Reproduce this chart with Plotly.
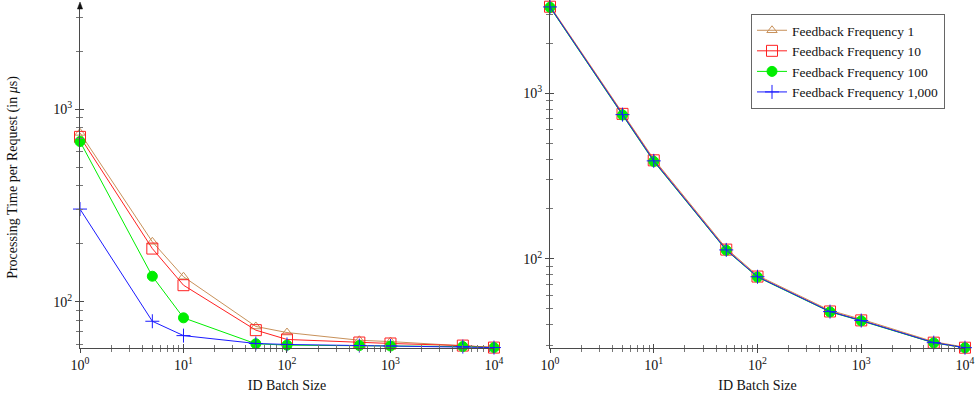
import plotly.graph_objects as go

batch_sizes = [1, 5, 10, 50, 100, 500, 1000, 5000, 10000]
series_names = ["Feedback Frequency 1", "Feedback Frequency 10",
                "Feedback Frequency 100", "Feedback Frequency 1,000"]

left_ff1 = [753, 205, 135, 74.5, 69.3, 63.2, 62.2, 59.3, 57.9]
left_ff10 = [718, 189, 122, 71.3, 63.8, 61.5, 60.8, 59.3, 57.9]
left_ff100 = [679, 135.8, 82.6, 60.6, 59.6, 59.3, 59.0, 58.6, 57.9]
left_ff1000 = [303, 79.3, 66.8, 60.8, 60.1, 59.3, 59.0, 58.6, 57.9]

right_ff1 = [3370, 762, 400, 115.5, 79.2, 48.7, 43.1, 31.5, 29.2]
right_ff10 = [3330, 750, 393, 113.5, 78.0, 48.0, 42.4, 31.1, 29.0]
right_ff100 = [3300, 738, 387, 112.5, 77.4, 47.7, 42.1, 31.0, 28.95]
right_ff1000 = [3320, 742, 390, 113.0, 77.8, 47.9, 42.3, 31.1, 29.0]

major_x = [1, 10, 100, 1000, 10000]
major_x_text = ["10<sup>0</sup>", "10<sup>1</sup>", "10<sup>2</sup>", "10<sup>3</sup>", "10<sup>4</sup>"]
major_y = [100, 1000]
major_y_text = ["10<sup>2</sup>", "10<sup>3</sup>"]

colors = ["#c8915a", "#ff2020", "#00ee00", "#1a1aff"]
symbols = ["triangle-up-open", "square-open", "circle", "cross-thin"]
sizes = [9, 11, 10, 10]

FONT = "Liberation Serif"
AXC = "#4a4a4a"

minor_x = [m * 10 ** k for k in range(0, 4) for m in range(2, 10)]
minor_y = [m * 10 ** k for k in range(1, 4) for m in range(2, 10)]

fig = go.Figure()

left_sets = [left_ff1, left_ff10, left_ff100, left_ff1000]
right_sets = [right_ff1, right_ff10, right_ff100, right_ff1000]

for i, (name, ys) in enumerate(zip(series_names, left_sets)):
    fig.add_trace(go.Scatter(
        x=batch_sizes, y=ys, name=name, mode="lines+markers",
        line=dict(color=colors[i], width=1),
        marker=dict(symbol=symbols[i], size=sizes[i], color=colors[i],
                    line=dict(color=colors[i], width=1)),
        cliponaxis=False, showlegend=False, xaxis="x", yaxis="y"))

for i, (name, ys) in enumerate(zip(series_names, right_sets)):
    fig.add_trace(go.Scatter(
        x=batch_sizes, y=ys, name=name, mode="lines+markers",
        line=dict(color=colors[i], width=1),
        marker=dict(symbol=symbols[i], size=sizes[i], color=colors[i],
                    line=dict(color=colors[i], width=1)),
        cliponaxis=False, showlegend=True, xaxis="x2", yaxis="y2"))

# dummy traces for overlay axes (inner tick marks)
fig.add_trace(go.Scatter(x=[10], y=[100], xaxis="x3", yaxis="y3", mode="markers",
                         marker=dict(opacity=0), showlegend=False, hoverinfo="skip"))
fig.add_trace(go.Scatter(x=[10], y=[100], xaxis="x4", yaxis="y4", mode="markers",
                         marker=dict(opacity=0), showlegend=False, hoverinfo="skip"))

L_DOM = [80 / 979, 494 / 979]
R_DOM = [550 / 979, 965 / 979]
L_YDOM = [48 / 396, 389 / 396]
R_YDOM = [48 / 396, 1.0]
L_YR = [1.7605, 3.530]
R_YR = [1.4605, 3.563]
XR = [0, 4.0002]


def xax(domain, anchor, title, inner=False, overlay=None):
    d = dict(type="log", domain=domain, range=XR, anchor=anchor, automargin=False,
             showgrid=False, zeroline=False,
             tickvals=major_x, ticktext=major_x_text,
             tickfont=dict(family=FONT, size=14, color="#111"),
             ticklen=4, tickcolor=AXC, tickwidth=1,
             minor=dict(tickvals=minor_x, ticklen=3, tickcolor="#777", ticks="outside"),
             showline=True, linecolor=AXC, linewidth=1.2, ticks="outside")
    if inner:
        d.update(ticks="inside", showticklabels=False, showline=False,
                 overlaying=overlay)
        d["minor"] = dict(tickvals=minor_x, ticklen=3, tickcolor="#777", ticks="inside")
    else:
        d["title"] = dict(text=title, font=dict(family=FONT, size=14, color="#111"),
                          standoff=8)
    return d


def yax(domain, rng, anchor, title=None, inner=False, overlay=None):
    d = dict(type="log", domain=domain, range=rng, anchor=anchor, automargin=False,
             showgrid=False, zeroline=False,
             tickvals=major_y, ticktext=major_y_text,
             tickfont=dict(family=FONT, size=14, color="#111"),
             ticklen=4, tickcolor=AXC, tickwidth=1,
             minor=dict(tickvals=minor_y, ticklen=3, tickcolor="#777", ticks="outside"),
             showline=True, linecolor=AXC, linewidth=1.2, ticks="outside")
    if inner:
        d.update(ticks="inside", showticklabels=False, showline=False,
                 overlaying=overlay)
        d["minor"] = dict(tickvals=minor_y, ticklen=3, tickcolor="#777", ticks="inside")
    elif title:
        d["title"] = dict(text=title, font=dict(family=FONT, size=14, color="#111"),
                          standoff=32)
    return d


fig.update_layout(
    width=979, height=396,
    margin=dict(l=0, r=0, t=0, b=0, autoexpand=False),
    paper_bgcolor="white", plot_bgcolor="white",
    font=dict(family=FONT, color="#111"),
    xaxis=xax(L_DOM, "y", "ID Batch Size"),
    yaxis=yax(L_YDOM, L_YR, "x", "Processing Time per Request (in <i>μ</i>s)"),
    xaxis2=xax(R_DOM, "y2", "ID Batch Size"),
    yaxis2=yax(R_YDOM, R_YR, "x2"),
    xaxis3=dict(xax(L_DOM, "y3", None, inner=True, overlay="x")),
    yaxis3=dict(yax(L_YDOM, L_YR, "x3", inner=True, overlay="y")),
    xaxis4=dict(xax(R_DOM, "y4", None, inner=True, overlay="x2")),
    yaxis4=dict(yax(R_YDOM, R_YR, "x4", inner=True, overlay="y2")),
    legend=dict(x=751 / 979, y=1 - 14 / 396, xanchor="left", yanchor="top",
                bordercolor="#666", borderwidth=1, bgcolor="white",
                font=dict(family=FONT, size=13.5, color="#111"),
                tracegroupgap=0, itemwidth=30),
    showlegend=True,
)

# arrow head at the top of the left y axis
ax_x = 80 / 979
fig.add_shape(type="path", xref="paper", yref="paper",
              path=f"M {ax_x - 2.6/979},{1 - 9/396} L {ax_x + 2.6/979},{1 - 9/396} L {ax_x},{1 - 2/396} Z",
              fillcolor="#111", line=dict(color="#111", width=0.5))

fig.write_html("out.html", config={"displayModeBar": False},
               post_script="document.body.style.margin='0';document.body.style.overflow='hidden';")
